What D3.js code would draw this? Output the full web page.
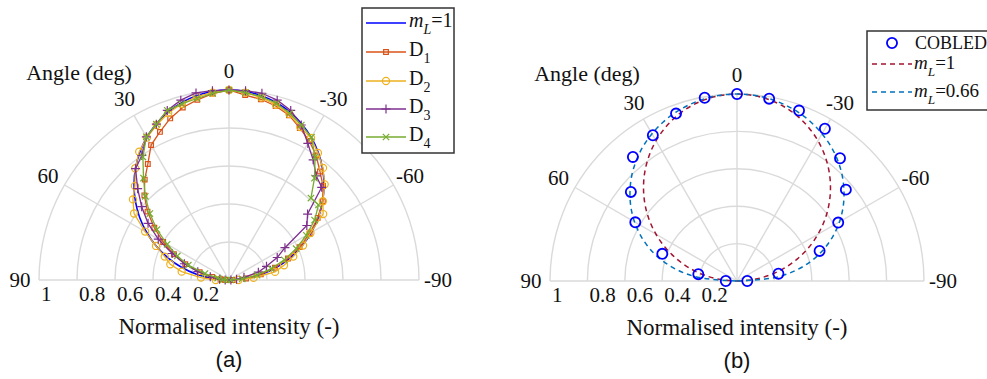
<!DOCTYPE html>
<html>
<head>
<meta charset="utf-8">
<script src="https://cdn.jsdelivr.net/npm/d3@7"></script>
<style>
  body { margin: 0; background: #fff; }
  text { font-family: "Liberation Serif", "Times New Roman", serif; fill: #111; }
</style>
</head>
<body>
<svg id="chart" width="987" height="379"></svg>
<script>
// angles in degrees: positive = left side of the half-plot
const angles = [-90, -85, -80, -75, -70, -65, -60, -55, -50, -45, -40, -35, -30, -25, -20, -15, -10, -5,
  0, 5, 10, 15, 20, 25, 30, 35, 40, 45, 50, 55, 60, 65, 70, 75, 80, 85, 90];

// (a) normalised intensity
const lambert1 = [0, .087, .174, .259, .342, .423, .5, .574, .643, .707, .766, .819, .866, .906, .94, .966, .985, .996,
  1, .996, .985, .966, .94, .906, .866, .819, .766, .707, .643, .574, .5, .423, .342, .259, .174, .087, 0];
const d1 = [.02, .09, .17, .25, .33, .41, .49, .57, .645, .70, .745, .80, .845, .882, .923, .948, .966, .977,
  1, .985, .963, .94, .905, .86, .82, .745, .69, .63, .56, .48, .40, .32, .245, .16, .09, .045, .02];
const d2 = [.05, .13, .246, .30, .36, .43, .495, .605, .645, .712, .77, .816, .863, .888, .93, .955, .975, .99,
  1, .99, .98, .96, .935, .90, .865, .824, .768, .70, .66, .61, .51, .424, .36, .32, .253, .148, .07];
const d3s = [.01, .04, .08, .16, .21, .28, .34, .50, .54, .69, .715, .772, .83, .90, .95, .98, .998, 1,
  1, 1, 1, .98, .95, .905, .87, .80, .765, .68, .60, .52, .43, .33, .25, .17, .10, .05, .02];
const d4 = [.01, .07, .15, .23, .31, .39, .47, .55, .615, .61, .70, .79, .868, .90, .934, .963, .98, .99,
  1, .986, .97, .96, .95, .905, .87, .79, .70, .623, .544, .463, .376, .30, .228, .131, .06, .03, .01];

// (b)
const cobAngles = [-90, -80, -70, -60, -50, -40, -30, -20, -10, 0, 10, 20, 30, 40, 50, 60, 70, 80, 90];
const cobled = [.055, .225, .47, .625, .76, .857, .94, .97, .99, 1, .995, .953, .90, .866, .741, .628, .425, .21, .06];
const lambert066 = [0, .199, .315, .410, .493, .566, .633, .693, .747, .796, .839, .877, .909, .937, .960, .977, .990, .9975,
  1, .9975, .990, .977, .960, .937, .909, .877, .839, .796, .747, .693, .633, .566, .493, .410, .315, .199, 0];

const spokeAngles = [-90, -60, -30, 0, 30, 60, 90];
const ringValues = [0.2, 0.4, 0.6, 0.8, 1];
const ringLabels = ['0.2', '0.4', '0.6', '0.8', '1'];

const svg = d3.select('#chart');
const rad = d => d * Math.PI / 180;

function polarFrame(cx, cy, R, tag) {
  const g = svg.append('g').attr('transform', `translate(${cx},${cy})`);
  const r = d3.scaleLinear().domain([0, 1]).range([0, R]);

  const grid = g.append('g').attr('class', 'grid')
    .attr('fill', 'none').attr('stroke', '#dadada').attr('stroke-width', 1.4);
  ringValues.forEach(v => {
    const p = d3.path();
    p.moveTo(-r(v), 0);
    p.arc(0, 0, r(v), Math.PI, 2 * Math.PI);
    grid.append('path').attr('d', p.toString());
  });
  spokeAngles.forEach(a => {
    grid.append('line')
      .attr('x1', 0).attr('y1', 0)
      .attr('x2', -r(1) * Math.sin(rad(a)))
      .attr('y2', -r(1) * Math.cos(rad(a)));
  });

  // angle labels
  spokeAngles.forEach(a => {
    const lr = R + 19;
    g.append('text')
      .attr('x', -lr * Math.sin(rad(a)))
      .attr('y', -lr * Math.cos(rad(a)))
      .attr('text-anchor', 'middle')
      .attr('dominant-baseline', 'central')
      .attr('font-size', 21)
      .text(a);
  });

  // radial tick labels
  ringValues.forEach((v, i) => {
    g.append('text')
      .attr('x', -r(v) + 2)
      .attr('y', 21)
      .attr('font-size', 21)
      .text(ringLabels[i]);
  });

  g.append('text').attr('x', -150).attr('y', -200)
    .attr('text-anchor', 'middle').attr('font-size', 22).text('Angle (deg)');
  g.append('text').attr('x', 0).attr('y', 54)
    .attr('text-anchor', 'middle').attr('font-size', 23).text('Normalised intensity (-)');
  g.append('text').attr('x', 0).attr('y', 87)
    .attr('text-anchor', 'middle')
    .style('font-family', '"Liberation Sans", Arial, sans-serif')
    .attr('font-size', 22).text(tag);

  return {g, r};
}

const markers = {
  square: d3.symbol(d3.symbolSquare, 22)(),
  circle: d3.symbol(d3.symbolCircle, 40)(),
  plus: 'M-4.5,0H4.5M0,-4.5V4.5',
  cross: 'M-3.2,-3.2L3.2,3.2M-3.2,3.2L3.2,-3.2'
};

function drawSeries(g, r, angs, vals, opt) {
  const pts = angs.map((a, i) => ({a, v: vals[i]}));
  const line = d3.lineRadial()
    .angle(d => -rad(d.a))
    .radius(d => r(d.v))
    .curve(opt.curve || d3.curveLinear);
  if (opt.line !== false) {
    g.append('path').datum(pts)
      .attr('d', line)
      .attr('fill', 'none')
      .attr('stroke', opt.color)
      .attr('stroke-width', opt.width || 1.3)
      .attr('stroke-dasharray', opt.dash || null);
  }
  if (opt.marker) {
    g.append('g').selectAll('path').data(pts).join('path')
      .attr('transform', d => `translate(${-r(d.v) * Math.sin(rad(d.a))},${-r(d.v) * Math.cos(rad(d.a))})`)
      .attr('d', opt.markerPath || markers[opt.marker])
      .attr('fill', 'none')
      .attr('stroke', opt.color)
      .attr('stroke-width', opt.markerWidth || 1.2);
  }
}

function mLabel(sel, x, y, rest, fs) {
  const t = sel.append('text').attr('x', x).attr('y', y).attr('font-size', fs);
  t.append('tspan').attr('font-style', 'italic').text('m');
  t.append('tspan').attr('font-style', 'italic').attr('font-size', fs * 0.7).attr('dy', 7).text('L');
  t.append('tspan').attr('dy', -7).text(rest);
}
function dLabel(sel, x, y, sub) {
  const t = sel.append('text').attr('x', x).attr('y', y).attr('font-size', 20);
  t.append('tspan').text('D');
  t.append('tspan').attr('font-size', 14).attr('dy', 7).text(sub);
}

// ---------- (a) ----------
const A = polarFrame(229, 280, 190, '(a)');
const seriesA = [
  {name: '1', vals: d1, color: '#d95319', marker: 'square'},
  {name: '2', vals: d2, color: '#edb120', marker: 'circle'},
  {name: '3', vals: d3s, color: '#7e2f8e', marker: 'plus'},
  {name: '4', vals: d4, color: '#77ac30', marker: 'cross'}
];
drawSeries(A.g, A.r, angles, lambert1, {color: '#0000ff', width: 1.6, curve: d3.curveCatmullRom});
seriesA.forEach(s => drawSeries(A.g, A.r, angles, s.vals, s));

const legA = svg.append('g');
legA.append('rect').attr('x', 362).attr('y', 8).attr('width', 92).attr('height', 145)
  .attr('fill', '#fff').attr('stroke', '#333').attr('stroke-width', 1.5);
const rowsA = [23, 52, 81, 109, 137];
legA.append('line').attr('x1', 366).attr('x2', 406).attr('y1', rowsA[0]).attr('y2', rowsA[0])
  .attr('stroke', '#0000ff').attr('stroke-width', 1.6);
mLabel(legA, 409, rowsA[0] + 4, '=1', 20);
seriesA.forEach((s, i) => {
  const y = rowsA[i + 1];
  legA.append('line').attr('x1', 366).attr('x2', 406).attr('y1', y).attr('y2', y)
    .attr('stroke', s.color).attr('stroke-width', 1.3);
  legA.append('path').attr('transform', `translate(386,${y})`).attr('d', markers[s.marker])
    .attr('fill', 'none').attr('stroke', s.color).attr('stroke-width', 1.2);
  dLabel(legA, 409, y + 4, s.name);
});

// ---------- (b) ----------
const B = polarFrame(737, 281, 187, '(b)');
drawSeries(B.g, B.r, angles, lambert1, {color: '#a2142f', width: 1.5, dash: '5,4', curve: d3.curveCatmullRom});
drawSeries(B.g, B.r, angles, lambert066, {color: '#0072bd', width: 1.5, dash: '5,4', curve: d3.curveCatmullRom});
drawSeries(B.g, B.r, cobAngles, cobled, {color: '#0000ff', line: false, marker: 'ring',
  markerPath: d3.symbol(d3.symbolCircle, 80)(), markerWidth: 1.8});

const legB = svg.append('g');
legB.append('rect').attr('x', 867).attr('y', 31).attr('width', 130).attr('height', 79)
  .attr('fill', '#fff').attr('stroke', '#333').attr('stroke-width', 1.5);
legB.append('path').attr('transform', 'translate(892,43)').attr('d', d3.symbol(d3.symbolCircle, 80)())
  .attr('fill', 'none').attr('stroke', '#0000ff').attr('stroke-width', 1.8);
legB.append('text').attr('x', 915).attr('y', 49).attr('font-size', 18).text('COBLED');
[[64, '#a2142f', '=1'], [92, '#0072bd', '=0.66']].forEach(([y, c, t]) => {
  legB.append('line').attr('x1', 872).attr('x2', 912).attr('y1', y).attr('y2', y)
    .attr('stroke', c).attr('stroke-width', 1.5).attr('stroke-dasharray', '5,4');
  mLabel(legB, 914, y + 5, t, 19);
});
</script>
</body>
</html>
